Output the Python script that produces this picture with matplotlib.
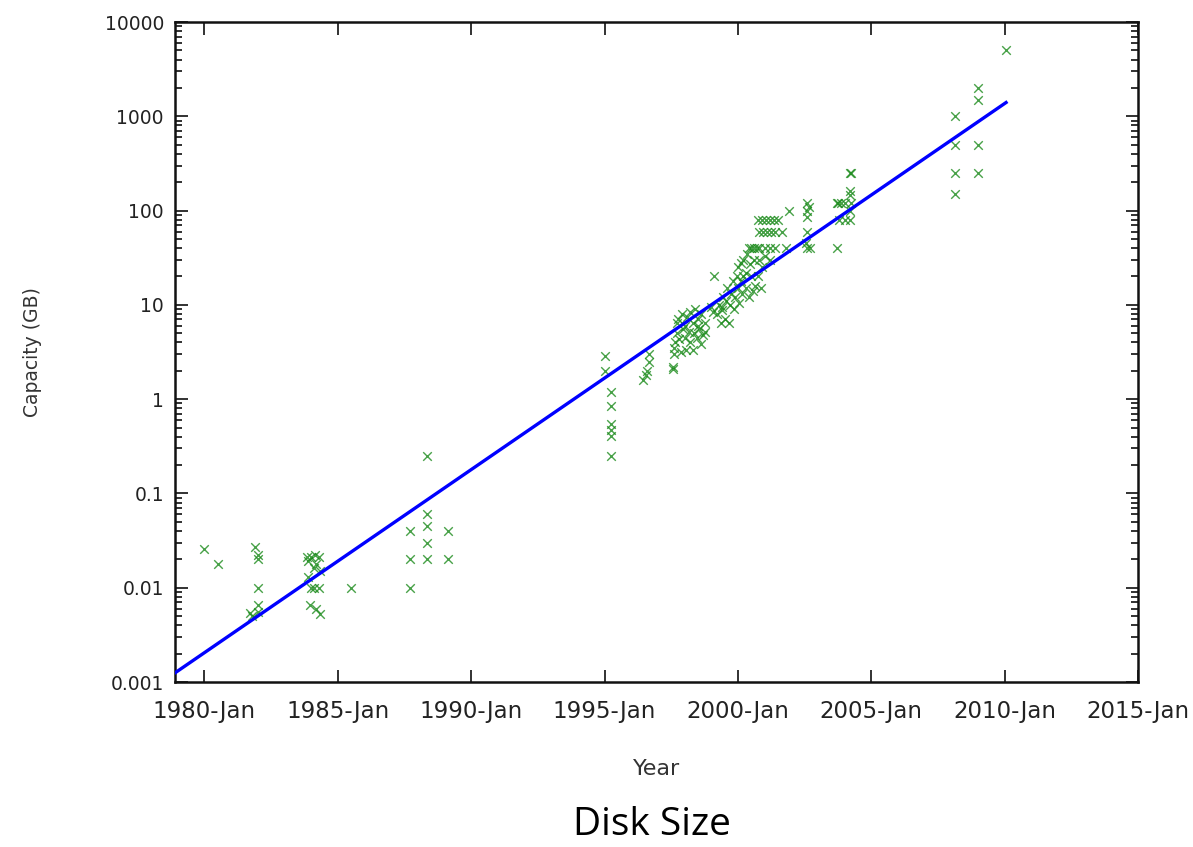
import numpy as np
import matplotlib
matplotlib.use("Agg")
import matplotlib.pyplot as plt
from matplotlib.ticker import LogLocator, FixedLocator, NullFormatter

# ---------------------------------------------------------------- data
# disk releases: decimal year, capacity in GB
early_years = [1980.0, 1980.5, 1981.9, 1982.0, 1982.0, 1982.0, 1982.0, 1982.0, 1981.7, 1981.8,
               1983.85, 1983.9, 1984.0, 1984.1, 1984.15, 1984.2, 1984.3, 1984.35, 1983.9, 1984.0,
               1984.1, 1984.3, 1983.95, 1984.2, 1984.35, 1985.5,
               1987.7, 1987.7, 1987.7, 1988.35, 1988.35, 1988.35, 1988.35, 1988.35, 1989.15, 1989.15]
early_gb = [0.026, 0.018, 0.027, 0.022, 0.020, 0.010, 0.0065, 0.0055, 0.0054, 0.005,
            0.021, 0.019, 0.021, 0.016, 0.022, 0.018, 0.021, 0.015, 0.013, 0.010,
            0.010, 0.010, 0.0065, 0.006, 0.0052, 0.010,
            0.040, 0.020, 0.010, 0.25, 0.060, 0.045, 0.030, 0.020, 0.040, 0.020]

mid_years = [1995.0, 1995.0, 1995.25, 1995.25, 1995.25, 1995.25, 1995.25, 1995.25,
             1996.65, 1996.65, 1996.6, 1996.55, 1996.45,
             1997.55, 1997.55, 1997.6, 1997.6, 1997.65, 1997.7, 1997.7, 1997.75, 1997.8, 1997.85,
             1997.9, 1997.95, 1998.0, 1998.0, 1998.05, 1998.1, 1998.15, 1998.2, 1998.2, 1998.3,
             1998.3, 1998.35, 1998.4, 1998.45, 1998.5, 1998.5, 1998.55, 1998.6, 1998.6, 1998.7,
             1998.75, 1998.75]
mid_gb = [2.9, 2.0, 1.2, 0.85, 0.54, 0.47, 0.41, 0.25,
          3.0, 2.5, 2.0, 1.8, 1.6,
          2.1, 2.2, 3.0, 3.5, 4.0, 5.0, 6.5, 7.0, 4.3, 3.2,
          8.0, 5.5, 6.0, 4.5, 3.3, 7.5, 5.2, 8.5, 4.0, 6.4,
          3.3, 5.0, 9.0, 4.5, 6.0, 7.0, 5.5, 3.8, 8.0, 4.8,
          6.5, 5.2]

late_years = [1999.0, 1999.05, 1999.1, 1999.2, 1999.3, 1999.35, 1999.4, 1999.4, 1999.45, 1999.5,
              1999.55, 1999.6, 1999.65, 1999.7, 1999.75, 1999.8, 1999.85, 1999.9, 1999.95, 2000.0,
              2000.0, 2000.05, 2000.1, 2000.1, 2000.15, 2000.2, 2000.2, 2000.3, 2000.3, 2000.35,
              2000.4, 2000.45, 2000.5, 2000.5, 2000.55, 2000.6, 2000.65, 2000.7, 2000.75, 2000.8,
              2000.85, 2000.9,
              2000.75, 2000.9, 2001.05, 2001.2, 2001.35, 2001.5, 2000.8, 2000.95, 2001.1, 2001.25,
              2001.4, 2001.65, 2000.4, 2000.6, 2000.8, 2001.0, 2001.2, 2001.4, 2001.8, 2001.9,
              2001.2, 2001.0,
              2002.6, 2002.6, 2002.6, 2002.6, 2002.6, 2002.65, 2002.55, 2002.7,
              2003.7, 2003.7, 2003.75, 2003.85, 2004.0, 2003.8, 2004.0, 2004.2, 2004.2, 2004.25,
              2004.2, 2004.2, 2004.25, 2004.2,
              2008.15, 2008.15, 2008.15, 2008.15, 2009.0, 2009.0, 2009.0, 2009.0, 2010.05]
late_gb = [9.5, 8.5, 20, 8.0, 10, 6.4, 9.6, 8.9, 12, 7.0,
           11, 15, 6.5, 10, 13, 18, 9, 12, 20, 25,
           15, 10.5, 28, 18, 13, 20, 30, 22, 15, 35,
           12, 27, 20, 40, 14, 30, 16, 40, 20, 30,
           15, 25,
           80, 80, 80, 80, 80, 80, 60, 60, 60, 60,
           60, 60, 40, 40, 40, 40, 40, 40, 40, 100,
           30, 33,
           120, 100, 85, 60, 40, 110, 45, 40,
           40, 120, 120, 120, 120, 80, 80, 80, 250, 250,
           160, 145, 120, 100,
           1000, 500, 250, 150, 2000, 1500, 500, 250, 5000]

years = early_years + mid_years + late_years
capacity_gb = early_gb + mid_gb + late_gb

# exponential trend line (end points)
fit_years = [1978.9, 2010.05]
fit_gb = [0.00125, 1400]

tick_years = [1980, 1985, 1990, 1995, 2000, 2005, 2010, 2015]
tick_labels = [f"{y}-Jan" for y in tick_years]
y_ticks = [0.001, 0.01, 0.1, 1, 10, 100, 1000, 10000]
y_labels = ["0.001", "0.01", "0.1", "1", "10", "100", "1000", "10000"]

# ---------------------------------------------------------------- figure
fig = plt.figure(figsize=(11.93, 8.47), dpi=100)
ax = fig.add_axes([0.1467, 0.1948, 0.8073, 0.7792])

ax.scatter(years, capacity_gb, marker="x", s=38, color="#1a8a1a", linewidths=1.0,
           alpha=0.8, zorder=2)
ax.plot(fit_years, fit_gb, color="#0000ff", lw=2.4, zorder=3)

ax.set_yscale("log")
ax.set_ylim(0.001, 10000)
ax.set_xlim(1978.9, 2015.0)

ax.xaxis.set_major_locator(FixedLocator(tick_years))
ax.set_xticklabels(tick_labels, fontsize=16.5)
ax.set_yticks(y_ticks)
ax.set_yticklabels(y_labels, fontsize=13.5)
ax.yaxis.set_minor_locator(LogLocator(base=10, subs=np.arange(2, 10)))
ax.yaxis.set_minor_formatter(NullFormatter())

ax.tick_params(which="both", direction="in", top=True, right=True, colors="#222222",
               width=1.3)
ax.tick_params(which="major", length=9)
ax.tick_params(which="minor", length=5)
ax.tick_params(axis="x", pad=13)
ax.tick_params(axis="y", pad=8)
for s in ax.spines.values():
    s.set_linewidth(1.8)
    s.set_color("#111111")

ax.set_xlabel("Year", fontsize=16, color="#333333", labelpad=26)
ax.set_ylabel("Capacity (GB)", fontsize=13.5, color="#333333")
ax.yaxis.set_label_coords(-0.138, 0.5)

fig.text(0.5465, 0.014, "Disk Size", ha="center", va="baseline", fontsize=28,
         family=["Open Sans", "DejaVu Sans"])

fig.savefig("out.png", dpi=100)
